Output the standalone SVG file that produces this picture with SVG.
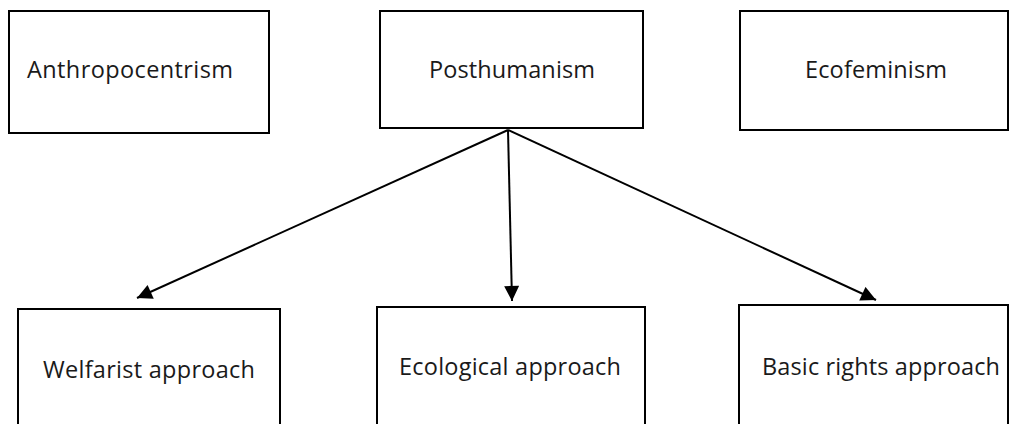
<svg xmlns="http://www.w3.org/2000/svg" width="1011" height="424" viewBox="0 0 1011 424">
<style>
.box{fill:#fff;stroke:#000;stroke-width:2}
.lbl{font-family:"Open Sans","Noto Sans",sans-serif;font-size:23.5px;fill:#1a1a1a}
.edge{stroke:#000;stroke-width:2;fill:none}
</style>
<defs>
<marker id="ah" viewBox="0 0 10 10" refX="10" refY="5" markerWidth="17" markerHeight="15" markerUnits="userSpaceOnUse" orient="auto">
<path d="M0,0 L10,5 L0,10 z" fill="#000"/>
</marker>
</defs>
<rect width="1011" height="424" fill="#fff"/>
<g id="connectors">
<line class="edge" x1="508" y1="130" x2="137" y2="298" marker-end="url(#ah)"/>
<line class="edge" x1="508" y1="130" x2="512" y2="301" marker-end="url(#ah)"/>
<line class="edge" x1="508" y1="130" x2="876" y2="300" marker-end="url(#ah)"/>
</g>
<g id="anthropocentrism">
<rect class="box" x="9" y="11" width="260" height="122"/>
<text class="lbl" x="27" y="78" textLength="206">Anthropocentrism</text>
</g>
<g id="posthumanism">
<rect class="box" x="380" y="11" width="263" height="117"/>
<text class="lbl" x="429" y="78" textLength="166">Posthumanism</text>
</g>
<g id="ecofeminism">
<rect class="box" x="740" y="11" width="268" height="119"/>
<text class="lbl" x="805" y="78" textLength="142">Ecofeminism</text>
</g>
<g id="welfarist">
<rect class="box" x="18" y="309" width="262" height="130"/>
<text class="lbl" x="43" y="378" textLength="212">Welfarist approach</text>
</g>
<g id="ecological">
<rect class="box" x="377" y="307" width="268" height="130"/>
<text class="lbl" x="399" y="375" textLength="222">Ecological approach</text>
</g>
<g id="basicrights">
<rect class="box" x="739" y="305" width="269" height="130"/>
<text class="lbl" x="762" y="375" textLength="238">Basic rights approach</text>
</g>
</svg>
